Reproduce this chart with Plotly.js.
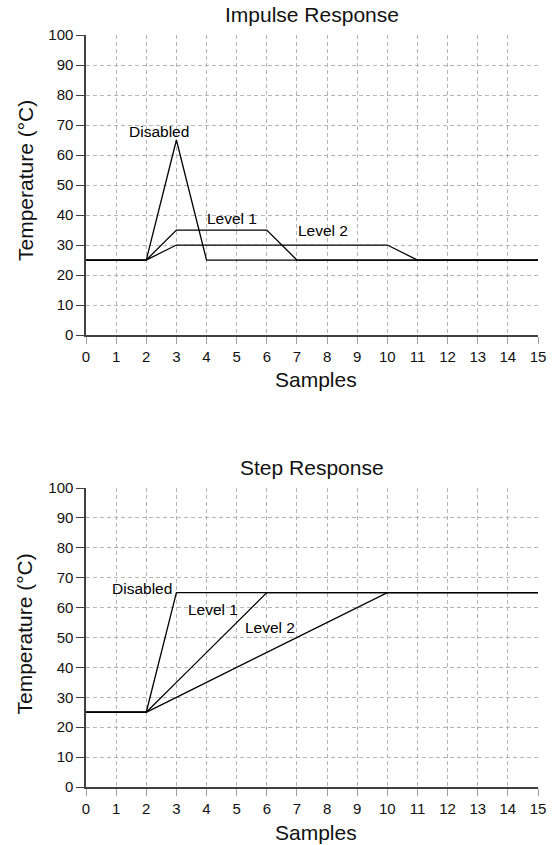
<!DOCTYPE html>
<html><head><meta charset="utf-8">
<script src="https://cdn.plot.ly/plotly-3.0.1.min.js"></script>
<style>html,body{margin:0;padding:0;background:#fff}#c{width:554px;height:845px}</style>
</head><body><div id="c"></div>
<script>
const samples = [0,1,2,3,4,5,6,7,8,9,10,11,12,13,14,15];
const impulseDisabled = [25,25,25,65,25,25,25,25,25,25,25,25,25,25,25,25];
const impulseLevel1   = [25,25,25,35,35,35,35,25,25,25,25,25,25,25,25,25];
const impulseLevel2   = [25,25,25,30,30,30,30,30,30,30,30,25,25,25,25,25];
const stepDisabled = [25,25,25,65,65,65,65,65,65,65,65,65,65,65,65,65];
const stepLevel1   = [25,25,25,35,45,55,65,65,65,65,65,65,65,65,65,65];
const stepLevel2   = [25,25,25,30,35,40,45,50,55,60,65,65,65,65,65,65];
const xTicks = samples;
const yTicks = [0,10,20,30,40,50,60,70,80,90,100];

const font = "Arial, 'Liberation Sans', sans-serif";
const line = {color:'#000', width:1.3};
function tr(y, xa, ya){ return {x:samples, y:y, type:'scatter', mode:'lines', line:line, xaxis:xa, yaxis:ya, hoverinfo:'skip'}; }
const traces = [
  tr(impulseLevel2,'x','y'), tr(impulseLevel1,'x','y'), tr(impulseDisabled,'x','y'),
  tr(stepLevel2,'x2','y2'), tr(stepLevel1,'x2','y2'), tr(stepDisabled,'x2','y2')
];

function xa(anchor){ return {range:[0,15], tickvals:xTicks, showline:true, linecolor:'#404040', linewidth:1.6,
  ticks:'outside', ticklen:7, tickcolor:'#a0a0a0', tickwidth:1, showgrid:true, gridcolor:'#b4b4b4', gridwidth:1, griddash:'4px,3px',
  zeroline:false, anchor:anchor, tickfont:{family:font,size:15,color:'#111'}, fixedrange:true}; }
function ya(anchor, dom){ return {range:[0,100], tickvals:yTicks, showline:true, linecolor:'#404040', linewidth:1.6,
  ticks:'outside', ticklen:8, tickcolor:'#404040', tickwidth:1, showgrid:true, gridcolor:'#b4b4b4', gridwidth:1, griddash:'4px,3px',
  zeroline:false, anchor:anchor, domain:dom, tickfont:{family:font,size:15,color:'#111'}, fixedrange:true}; }

function ann(text, x, y, xr, yr){ return {text:text, x:x, y:y, xref:xr, yref:yr, showarrow:false, font:{family:font,size:15.5,color:'#000'}}; }
const tf = {family:font,size:21,color:'#111'};
const topDom = [0.601,1], botDom = [0,0.3976];

const layout = {
  width:554, height:845, showlegend:false, plot_bgcolor:'#fff', paper_bgcolor:'#fff',
  margin:{l:86, r:16, t:35, b:58},
  xaxis: xa('y'), yaxis: ya('x',topDom),
  xaxis2: xa('y2'), yaxis2: ya('x2',botDom),
  annotations:[
    ann('Disabled',2.42,67.7,'x','y'), ann('Level 1',4.85,39,'x','y'), ann('Level 2',7.87,34.7,'x','y'),
    ann('Disabled',1.86,66.5,'x2','y2'), ann('Level 1',4.22,59.5,'x2','y2'), ann('Level 2',6.1,53.2,'x2','y2'),
    {text:'Impulse Response', xref:'paper', yref:'paper', x:0.5, y:topDom[1], yanchor:'middle', yshift:21, showarrow:false, font:tf},
    {text:'Step Response', xref:'paper', yref:'paper', x:0.5, y:botDom[1], yanchor:'middle', yshift:21, showarrow:false, font:tf},
    {text:'Samples', xref:'paper', yref:'paper', x:0.509, y:topDom[0], yanchor:'middle', yshift:-44, showarrow:false, font:tf},
    {text:'Samples', xref:'paper', yref:'paper', x:0.509, y:botDom[0], yanchor:'middle', yshift:-45, showarrow:false, font:tf},
    {text:'Temperature (°C)', xref:'paper', yref:'paper', x:0, xanchor:'center', xshift:-61, y:(topDom[0]+topDom[1])/2, yanchor:'middle', yshift:4, textangle:-90, showarrow:false, font:tf},
    {text:'Temperature (°C)', xref:'paper', yref:'paper', x:0, xanchor:'center', xshift:-61, y:(botDom[0]+botDom[1])/2, yanchor:'middle', yshift:3, textangle:-90, showarrow:false, font:tf}
  ]
};
Plotly.newPlot('c', traces, layout, {staticPlot:true, displayModeBar:false});
</script></body></html>
